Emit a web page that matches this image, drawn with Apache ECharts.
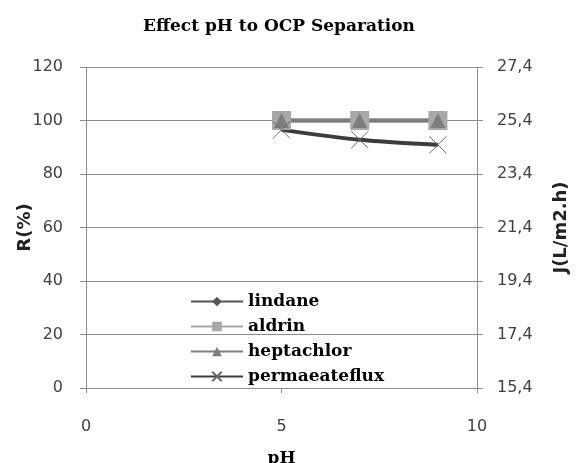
<!DOCTYPE html>
<html>
  <head>
    <title>Effect pH to OCP Separation</title>
    <meta charset="utf-8" />
    <script src="https://cdn.jsdelivr.net/npm/echarts@6/dist/echarts.min.js"></script>
    <style>
      body { margin: 0; background: #fff; }
    </style>
  </head>
  <body>
 <div id="main" style="width: 578px;height:463px;"></div>
 <script type="text/javascript">
    // data
    var pH = [5, 7, 9];
    var lindane = [100, 100, 100];
    var aldrin = [100, 100, 100];
    var heptachlor = [100, 100, 100];
    var permeateFlux = [25.05, 24.68, 24.49];   // right axis, J(L/m2.h)

    function pairs(xs, ys) {
      var out = [];
      for (var i = 0; i < xs.length; i++) {
        out.push([xs[i], ys[i]]);
      }
      return out;
    }

    var myChart = echarts.init(document.getElementById('main'));
    var tickColor = '#404040';
    var axisGray = '#8c8c8c';
    var serifBold = { fontFamily: 'DejaVu Serif', fontWeight: 'bold', color: '#000' };

    var option = {
      animation: false,
      title: {
        text: 'Effect pH to OCP Separation',
        left: 274,
        textAlign: 'center',
        top: 13,
        textStyle: Object.assign({ fontSize: 17 }, serifBold)
      },
      // keep the plot box fixed, labels may sit outside it
      grid: { left: 86, right: 101, top: 67, bottom: 75, outerBoundsMode: 'none' },
      legend: {
        orient: 'vertical',
        left: 190,
        top: 293,
        padding: 0,
        itemWidth: 52,
        itemHeight: 12,
        itemGap: 8,
        textStyle: Object.assign({ fontSize: 17 }, serifBold),
        data: ['lindane', 'aldrin', 'heptachlor', 'permaeateflux']
      },
      xAxis: {
        type: 'value',
        min: 0, max: 10, interval: 5,
        name: 'pH',
        nameLocation: 'middle',
        nameGap: 62,
        nameMoveOverlap: false,
        nameTextStyle: Object.assign({ fontSize: 17 }, serifBold),
        axisLine: { lineStyle: { color: axisGray } },
        axisTick: { show: true, length: 5, lineStyle: { color: axisGray } },
        axisLabel: { fontFamily: 'DejaVu Sans', fontSize: 16, color: tickColor, margin: 31 },
        splitLine: { show: false }
      },
      yAxis: [
        {
          type: 'value',
          min: 0, max: 120, interval: 20,
          name: 'R(%)',
          nameLocation: 'middle',
          nameGap: 52,
          nameMoveOverlap: false,
          nameRotate: 90,
          nameTextStyle: { fontFamily: 'DejaVu Sans', fontWeight: 'bold', fontSize: 18, color: '#222' },
          axisLine: { show: true, lineStyle: { color: axisGray } },
          axisTick: { show: true, length: 6, lineStyle: { color: axisGray } },
          axisLabel: { fontFamily: 'DejaVu Sans', fontSize: 16, color: tickColor, margin: 23 },
          splitLine: { show: true, lineStyle: { color: '#8c8c8c', width: 1 } }
        },
        {
          type: 'value',
          min: 15.4, max: 27.4, interval: 2,
          name: 'J(L/m2.h)',
          nameLocation: 'middle',
          nameGap: 75,
          nameMoveOverlap: false,
          nameRotate: 90,
          nameTextStyle: { fontFamily: 'DejaVu Sans', fontWeight: 'bold', fontSize: 18, color: '#222' },
          axisLine: { show: true, lineStyle: { color: axisGray } },
          axisTick: { show: true, length: 6, lineStyle: { color: axisGray } },
          axisLabel: {
            fontFamily: 'DejaVu Sans', fontSize: 16, color: tickColor, margin: 20,
            formatter: function (v) { return v.toFixed(1).replace('.', ','); }
          },
          splitLine: { show: false }
        }
      ],
      series: [
        {
          name: 'lindane', type: 'line', yAxisIndex: 0,
          data: pairs(pH, lindane),
          symbol: 'diamond', symbolSize: 10,
          itemStyle: { color: '#555555' },
          lineStyle: { color: '#555555', width: 3 }
        },
        {
          name: 'aldrin', type: 'line', yAxisIndex: 0,
          data: pairs(pH, aldrin),
          symbol: 'rect', symbolSize: 19,
          itemStyle: { color: '#a8a8a8' },
          lineStyle: { color: '#a8a8a8', width: 4 }
        },
        {
          name: 'heptachlor', type: 'line', yAxisIndex: 0,
          data: pairs(pH, heptachlor),
          symbol: 'triangle', symbolSize: 15,
          itemStyle: { color: '#7d7d7d' },
          lineStyle: { color: '#7d7d7d', width: 4 }
        },
        {
          name: 'permaeateflux', type: 'line', yAxisIndex: 1,
          data: pairs(pH, permeateFlux),
          smooth: 0.3,
          symbol: 'path://M0,0L10,10M10,0L0,10', symbolSize: 17,
          itemStyle: { color: 'none', borderColor: '#666', borderWidth: 1 },
          lineStyle: { color: '#3c3c3c', width: 4 }
        }
      ]
    };

    myChart.setOption(option);
 </script>
  </body>
</html>
